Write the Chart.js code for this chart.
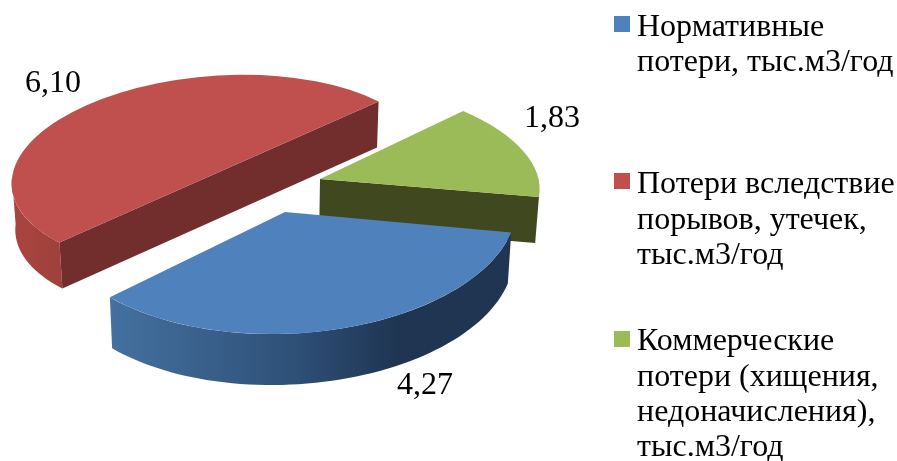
<!DOCTYPE html>
<html><head><meta charset="utf-8">
<style>html,body{margin:0;padding:0;background:#fff}canvas{display:block}</style>
<script src="https://cdn.jsdelivr.net/npm/chart.js@4"></script>
</head><body>
<canvas id="c" width="897" height="461"></canvas>
<script>
const categories = ["Нормативные потери, тыс.м3/год", "Потери вследствие порывов, утечек, тыс.м3/год", "Коммерческие потери (хищения, недоначисления), тыс.м3/год"];
const values = [4.27, 6.10, 1.83];
const valueLabels = ["4,27", "6,10", "1,83"];
const legendLines = [["Нормативные", "потери, тыс.м3/год"], ["Потери вследствие", "порывов, утечек,", "тыс.м3/год"], ["Коммерческие", "потери (хищения,", "недоначисления),", "тыс.м3/год"]];
const colors = ["#4F81BD", "#C0504D", "#9BBB59"];

// 3-D projection of each exploded slice: centre and affine matrix (a,b,c,d) for a unit circle
const views = [
  {cx: 285, cy: 212, a: 232, b: -2.8, c: -8, d: 122, depth: 51, cut: "#1F3552"},
  {cx: 219, cy: 172, a: 207, b: -6, c: -12, d: 97, depth: 46, cut: "#722E2C"},
  {cx: 320, cy: 179, a: 218.3, b: -0.9, c: 24.3, d: 98.8, depth: 46, cut: "#404820"}
];
const drawOrder = [1, 2, 0];
const labelPos = [[397, 394], [25, 92], [524, 127]];
const legendBoxes = [16, 173, 331];
const legendBaselines = [[36, 71], [193, 229, 264], [350, 386, 421, 456]];
const serif = '"Liberation Serif", "Times New Roman", serif';

function pt(v, ang, down) {
  const cs = Math.cos(ang), sn = Math.sin(ang);
  let x = v.cx + v.a * cs + v.c * sn, y = v.cy + v.b * cs + v.d * sn;
  if (down) { x += (270 - x) * 0.014; y += v.depth; }
  return [x, y];
}
function centerPt(v, down) {
  let x = v.cx, y = v.cy;
  if (down) { x += (270 - x) * 0.014; y += v.depth; }
  return [x, y];
}
function outerFill(ctx, i) {
  if (i === 0) {
    const g = ctx.createLinearGradient(110, 0, 510, 0);
    g.addColorStop(0, "#44719F"); g.addColorStop(0.45, "#2F5179");
    g.addColorStop(0.72, "#1F3552"); g.addColorStop(1, "#1F3552");
    return g;
  }
  if (i === 1) {
    const g = ctx.createLinearGradient(12, 0, 63, 0);
    g.addColorStop(0, "#A9453F"); g.addColorStop(1, "#9E403C");
    return g;
  }
  return "#404820";
}
const pie3d = {
  id: "pie3d",
  beforeDatasetsDraw(chart) {
    const ctx = chart.ctx, arcs = chart.getDatasetMeta(0).data;
    drawOrder.forEach(i => {
      const arc = arcs[i], v = views[i];
      const s = arc.startAngle, e = arc.endAngle;
      // outer rim, only the part facing the viewer
      const from = Math.max(s, 0), to = Math.min(e, Math.PI);
      if (to > from) {
        ctx.beginPath();
        for (let k = 0; k <= 60; k++) { const p = pt(v, from + (to - from) * k / 60, false); k ? ctx.lineTo(p[0], p[1]) : ctx.moveTo(p[0], p[1]); }
        for (let k = 60; k >= 0; k--) { const p = pt(v, from + (to - from) * k / 60, true); ctx.lineTo(p[0], p[1]); }
        ctx.closePath();
        ctx.fillStyle = outerFill(ctx, i);
        ctx.fill();
      }
      // cut faces that face the viewer (edges joined so no seam shows at the centre)
      const faces = [[s, -1], [e, 1]].filter(([ang, sgn]) => Math.sin(ang + sgn * Math.PI / 2) > 0).map(f => f[0]);
      if (faces.length) {
        const first = faces[0], last = faces[faces.length - 1];
        const t0 = faces.length === 2 ? pt(v, first, false) : centerPt(v, false);
        const t1 = pt(v, last, false), b1 = pt(v, last, true);
        const b0 = faces.length === 2 ? pt(v, first, true) : centerPt(v, true);
        ctx.beginPath(); ctx.moveTo(t0[0], t0[1]); ctx.lineTo(t1[0], t1[1]); ctx.lineTo(b1[0], b1[1]); ctx.lineTo(b0[0], b0[1]); ctx.closePath();
        ctx.fillStyle = v.cut; ctx.fill();
      }
      // top face: the library's own arc, projected
      const R = arc.outerRadius;
      ctx.save();
      ctx.translate(v.cx, v.cy);
      ctx.transform(v.a / R, v.b / R, v.c / R, v.d / R, 0, 0);
      ctx.translate(-arc.x, -arc.y);
      arc.draw(ctx);
      ctx.restore();
    });
    return false;
  },
  afterDraw(chart) {
    const ctx = chart.ctx;
    ctx.save();
    ctx.fillStyle = "#000";
    ctx.textBaseline = "alphabetic";
    ctx.textAlign = "left";
    ctx.font = "32px " + serif;
    valueLabels.forEach((t, i) => ctx.fillText(t, labelPos[i][0], labelPos[i][1]));
    legendLines.forEach((lines, i) => {
      ctx.fillStyle = colors[i];
      ctx.fillRect(614, legendBoxes[i], 16, 16);
      ctx.fillStyle = "#000";
      lines.forEach((l, j) => ctx.fillText(l, 637, legendBaselines[i][j]));
    });
    ctx.restore();
  }
};
new Chart(document.getElementById("c"), {
  type: "pie",
  data: { labels: categories, datasets: [{ data: values, backgroundColor: colors, borderWidth: 0 }] },
  options: {
    responsive: false, animation: false, rotation: 101,
    plugins: { legend: { display: false }, tooltip: { enabled: false } }
  },
  plugins: [pie3d]
});
</script>
</body></html>
